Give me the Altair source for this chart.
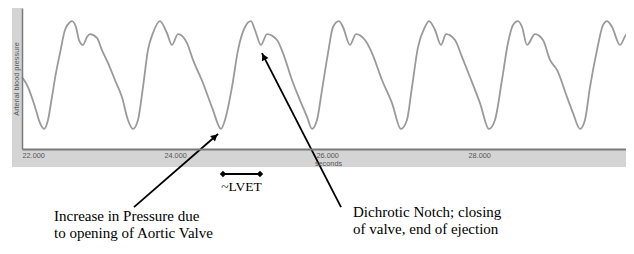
import altair as alt
import pandas as pd

# ---- waveform (time in s, pressure in arbitrary mmHg-like units)
time_s = [22.132, 22.211, 22.303, 22.368, 22.421, 22.474, 22.526, 22.579, 22.632, 22.697,
          22.763, 22.789, 22.842, 22.882, 22.934, 22.987, 23.026, 23.118, 23.184, 23.263,
          23.355, 23.447, 23.526, 23.592, 23.658, 23.724, 23.789, 23.855, 23.947, 24.039,
          24.105, 24.184, 24.303, 24.382, 24.513, 24.645, 24.750, 24.803, 24.895, 24.974,
          25.066, 25.145, 25.197, 25.276, 25.355, 25.487, 25.566, 25.684, 25.789, 25.882,
          25.947, 26.013, 26.079, 26.158, 26.224, 26.303, 26.355, 26.447, 26.526, 26.645,
          26.737, 26.868, 27.000, 27.118, 27.197, 27.263, 27.342, 27.434, 27.487, 27.566,
          27.645, 27.711, 27.829, 27.921, 28.026, 28.158, 28.276, 28.355, 28.447, 28.526,
          28.592, 28.658, 28.711, 28.776, 28.882, 28.987, 29.079, 29.171, 29.303, 29.382,
          29.474, 29.539, 29.605, 29.697, 29.776, 29.829, 29.895, 30.000, 30.092, 30.145]
pressure = [93.7, 89.0, 79.7, 72.2, 69.4, 73.6, 84.3, 95.6, 104.9, 115.7,
            119.4, 119.9, 117.1, 111.0, 108.7, 112.4, 113.8, 112.0, 106.3, 100.3,
            92.3, 84.3, 73.6, 69.4, 73.6, 89.0, 106.3, 114.3, 119.9, 114.3,
            108.7, 113.8, 109.6, 101.7, 90.9, 78.2, 69.4, 73.6, 89.0, 106.3,
            117.1, 119.9, 115.7, 108.7, 113.8, 111.0, 104.9, 92.3, 82.9, 75.0,
            69.4, 73.6, 87.6, 104.9, 117.1, 119.9, 117.1, 108.7, 113.8, 111.0,
            104.9, 92.3, 81.5, 69.4, 73.6, 89.0, 107.7, 117.1, 119.9, 115.7,
            108.7, 113.8, 111.0, 103.1, 93.7, 81.5, 69.4, 73.6, 92.3, 109.6,
            118.0, 119.9, 117.1, 108.7, 113.8, 111.0, 101.7, 97.0, 84.3, 76.8,
            69.4, 73.6, 89.0, 106.3, 118.0, 119.9, 117.1, 108.7, 113.8, 112.4]

x_ticks = [22, 24, 26, 28]
x_domain = [22.132, 30.184]
y_domain = [60, 126]

# ---- annotations (in data units)
arrow_t = [23.605, 26.329]
arrow_p = [32.8, 32.8]
arrow_t2 = [24.711, 25.289]
arrow_p2 = [67.0, 104.9]
head_t = [24.671, 25.313]
head_p = [65.8, 103.2]
head_angle = [49, 333]

lvet_t = [24.776, 25.263]
lvet_p = [48.3, 48.3]
lvet_label = ["~LVET"]
lvet_label_t = [25.02]
lvet_label_p = [42.2]

note_text = ["Increase in Pressure due", "to opening of Aortic Valve",
             "Dichrotic Notch; closing", "of valve, end of ejection"]
note_t = [22.553, 22.553, 26.487, 26.487]
note_p = [26.3, 18.3, 28.2, 20.2]

wave = pd.DataFrame({"t": time_s, "p": pressure})
arrows = pd.DataFrame({"t": arrow_t, "p": arrow_p, "t2": arrow_t2, "p2": arrow_p2})
heads = pd.DataFrame({"t": head_t, "p": head_p, "angle": head_angle})
lvet = pd.DataFrame({"t": lvet_t, "p": lvet_p})
lvet_lab = pd.DataFrame({"t": lvet_label_t, "p": lvet_label_p, "text": lvet_label})
notes = pd.DataFrame({"t": note_t, "p": note_p, "text": note_text})

W, H = 612, 141
STRIP = "#d4d4d4"
AXC = "#7a7a7a"
LABC = "#555555"
SANS = "Liberation Sans"
SERIF = "Liberation Serif"

xscale = alt.Scale(domain=x_domain, clamp=True, nice=False, zero=False)
yscale = alt.Scale(domain=y_domain, nice=False, zero=False)

x_axis = alt.Axis(values=x_ticks, format=".3f", labelAlign="left", labelFontSize=7.3,
                  labelColor=LABC, labelFont=SANS, labelPadding=2, ticks=False, grid=False,
                  domainColor=AXC, domainWidth=2, title="seconds", titleFont=SANS,
                  titleFontSize=7.3, titleFontWeight="normal", titleColor=LABC,
                  titlePadding=1, labelFlush=False, labelOverlap=False, zindex=1)
y_axis = alt.Axis(labels=False, ticks=False, grid=False, domainColor=AXC, domainWidth=1.5,
                  title="Arterial blood pressure", titleFont=SANS, titleFontSize=7.3,
                  titleFontWeight="normal", titleColor=LABC, titlePadding=1.5, zindex=1)

left_strip = alt.Chart(pd.DataFrame({"k": [0]})).mark_rect(color=STRIP).encode(
    x=alt.value(-10), x2=alt.value(0), y=alt.value(0), y2=alt.value(H))
bottom_strip = alt.Chart(pd.DataFrame({"k": [0]})).mark_rect(color=STRIP).encode(
    x=alt.value(-10), x2=alt.value(W), y=alt.value(H), y2=alt.value(H + 18))

line = alt.Chart(wave).mark_line(color="#9a9a9a", strokeWidth=1.8, interpolate="monotone").encode(
    x=alt.X("t:Q", scale=xscale, axis=x_axis),
    y=alt.Y("p:Q", scale=yscale, axis=y_axis),
)

arrow_lines = alt.Chart(arrows).mark_rule(color="black", strokeWidth=1.8).encode(
    x=alt.X("t:Q", scale=xscale), y=alt.Y("p:Q", scale=yscale),
    x2="t2:Q", y2="p2:Q")
arrow_heads = alt.Chart(heads).mark_point(shape="triangle-up", filled=True, color="black",
                                          size=55, opacity=1).encode(
    x=alt.X("t:Q", scale=xscale), y=alt.Y("p:Q", scale=yscale),
    angle=alt.Angle("angle:Q", scale=None))

lvet_line = alt.Chart(lvet).mark_line(color="black", strokeWidth=2).encode(
    x=alt.X("t:Q", scale=xscale), y=alt.Y("p:Q", scale=yscale))
lvet_pts = alt.Chart(lvet).mark_point(shape="diamond", filled=True, color="black",
                                      size=40, opacity=1).encode(
    x=alt.X("t:Q", scale=xscale), y=alt.Y("p:Q", scale=yscale))
lvet_text = alt.Chart(lvet_lab).mark_text(font=SERIF, fontSize=13.5, color="black",
                                          align="center", baseline="middle").encode(
    x=alt.X("t:Q", scale=xscale), y=alt.Y("p:Q", scale=yscale), text="text:N")
note_marks = alt.Chart(notes).mark_text(font=SERIF, fontSize=15, color="black",
                                        align="left", baseline="alphabetic").encode(
    x=alt.X("t:Q", scale=xscale), y=alt.Y("p:Q", scale=yscale), text="text:N")

chart = alt.layer(
    left_strip, bottom_strip, line, arrow_lines, arrow_heads,
    lvet_line, lvet_pts, lvet_text, note_marks
).properties(
    width=W, height=H,
    autosize=alt.AutoSizeParams(type="none"),
    padding={"left": 14, "top": 0, "right": -8, "bottom": 93},
    background="white",
).configure_view(stroke=None)

chart.save("out.html", embed_options={"renderer": "svg", "actions": False})
